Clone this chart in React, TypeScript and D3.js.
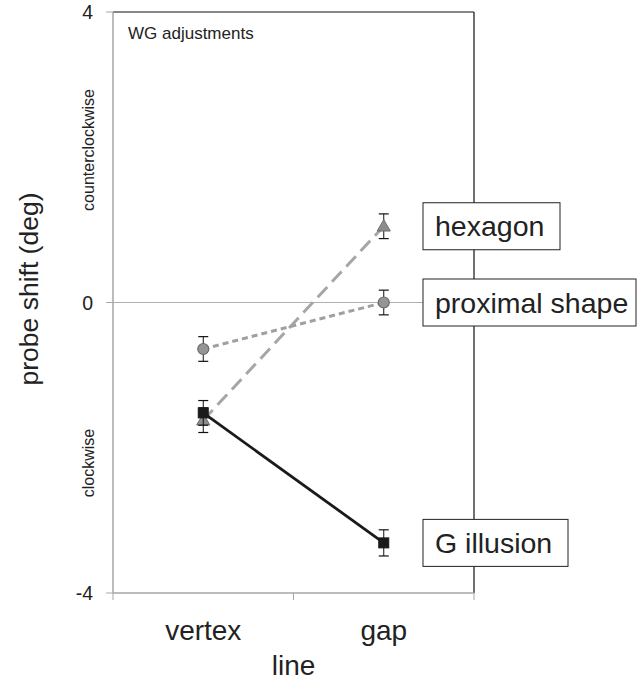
import React from "react";
import * as d3 from "d3";

const categories = ["vertex", "gap"];
const seriesNames = ["hexagon", "proximal shape", "G illusion"];
const hexagonValues = [-1.62, 1.05];
const hexagonErrors = [0.17, 0.17];
const proximalValues = [-0.64, 0.0];
const proximalErrors = [0.17, 0.17];
const gIllusionValues = [-1.52, -3.31];
const gIllusionErrors = [0.17, 0.18];
const yTicks = [4, 0, -4];

const W = 639;
const H = 681;
const left = 113;
const right = 474;
const top = 12;
const bottom = 593;

export default function App() {
  const y = d3.scaleLinear().domain([-4, 4]).range([bottom, top]);
  const xBand = d3.scaleBand().domain(categories).range([left, right]);
  const xc = (c: string) => (xBand(c) as number) + xBand.bandwidth() / 2;

  const line = d3
    .line<number>()
    .x((_, i) => xc(categories[i]))
    .y((v) => y(v));

  const series = [
    {
      name: seriesNames[0],
      values: hexagonValues,
      errors: hexagonErrors,
      color: "#a6a6a6",
      dash: "14,7",
      marker: "triangle",
      fill: "#8c8c8c",
      stroke: "#6e6e6e",
      labelY: 1.05,
      boxW: 137,
    },
    {
      name: seriesNames[1],
      values: proximalValues,
      errors: proximalErrors,
      color: "#a0a0a0",
      dash: "6,4",
      marker: "circle",
      fill: "#959595",
      stroke: "#6a6a6a",
      labelY: 0,
      boxW: 213,
    },
    {
      name: seriesNames[2],
      values: gIllusionValues,
      errors: gIllusionErrors,
      color: "#1a1a1a",
      dash: "",
      marker: "square",
      fill: "#1a1a1a",
      stroke: "#1a1a1a",
      labelY: -3.31,
      boxW: 145,
    },
  ];

  const drawMarker = (s: any, cx: number, cy: number, key: string) => {
    if (s.marker === "square")
      return <rect key={key} x={cx - 5} y={cy - 5} width={10} height={10} fill={s.fill} stroke={s.stroke} strokeWidth={1} />;
    if (s.marker === "circle")
      return <circle key={key} cx={cx} cy={cy} r={5.5} fill={s.fill} stroke={s.stroke} strokeWidth={1.2} />;
    const sym = d3.symbol().type(d3.symbolTriangle).size(75)();
    return <path key={key} d={sym as string} transform={`translate(${cx},${cy + 1})`} fill={s.fill} stroke={s.stroke} strokeWidth={1} />;
  };

  const font = "'Liberation Sans', Arial, Helvetica, sans-serif";

  return (
    <svg width={W} height={H} style={{ position: "absolute", left: 0, top: 0, fontFamily: font }}>
      <rect x={0} y={0} width={W} height={H} fill="#fff" />
      {/* zero line */}
      <line x1={left} x2={right} y1={y(0)} y2={y(0)} stroke="#b0b0b0" strokeWidth={1} />
      {/* frame */}
      <line x1={left} x2={right} y1={top} y2={top} stroke="#111" strokeWidth={1.2} />
      <line x1={right} x2={right} y1={top} y2={bottom} stroke="#111" strokeWidth={1.2} />
      <line x1={left} x2={left} y1={top} y2={bottom} stroke="#a6a6a6" strokeWidth={1.5} />
      <line x1={left} x2={right} y1={bottom} y2={bottom} stroke="#a6a6a6" strokeWidth={1.5} />
      {/* y ticks */}
      {yTicks.map((t) => (
        <g key={t}>
          <line x1={left - 7} x2={left} y1={y(t)} y2={y(t)} stroke="#a6a6a6" strokeWidth={1} />
          <text x={93} y={y(t) + 7} fontSize={19.5} textAnchor="end" fill="#222">
            {t}
          </text>
        </g>
      ))}
      {/* x ticks */}
      {[left, (left + right) / 2, right].map((xv, i) => (
        <line key={i} x1={xv} x2={xv} y1={bottom} y2={bottom + 7} stroke="#a6a6a6" strokeWidth={1} />
      ))}
      {categories.map((c) => (
        <text key={c} x={xc(c)} y={640} fontSize={28} textAnchor="middle" fill="#222">
          {c}
        </text>
      ))}
      <text x={(left + right) / 2} y={675} fontSize={28} textAnchor="middle" fill="#222">
        line
      </text>
      <text transform={`translate(38,${289}) rotate(-90)`} fontSize={26.5} textAnchor="middle" fill="#222">
        probe shift (deg)
      </text>
      <text transform={`translate(94,150) rotate(-90)`} fontSize={16} textAnchor="middle" fill="#222">
        counterclockwise
      </text>
      <text transform={`translate(94,463) rotate(-90)`} fontSize={16} textAnchor="middle" fill="#222">
        clockwise
      </text>
      <text x={128} y={39} fontSize={17} fill="#222">
        WG adjustments
      </text>
      {/* legend boxes */}
      {series.map((s) => (
        <g key={s.name}>
          <rect x={423} y={y(s.labelY) - 23.5} width={s.boxW} height={47} fill="#fff" stroke="#222" strokeWidth={1} />
          <text x={435} y={y(s.labelY) + 10} fontSize={28.5} fill="#222">
            {s.name}
          </text>
        </g>
      ))}
      {/* series */}
      {series.map((s) => (
        <g key={s.name}>
          <path d={line(s.values) as string} fill="none" stroke={s.color} strokeWidth={s.marker === "square" ? 2.8 : 3} strokeDasharray={s.dash} />
        </g>
      ))}
      {series.map((s) => (
        <g key={s.name + "m"}>
          {s.values.map((v, i) => {
            const cx = xc(categories[i]);
            const y1 = y(v + s.errors[i]);
            const y2 = y(v - s.errors[i]);
            return (
              <g key={i}>
                <line x1={cx} x2={cx} y1={y1} y2={y2} stroke="#111" strokeWidth={1} />
                <line x1={cx - 5} x2={cx + 5} y1={y1} y2={y1} stroke="#111" strokeWidth={1.2} />
                <line x1={cx - 5} x2={cx + 5} y1={y2} y2={y2} stroke="#111" strokeWidth={1.2} />
                {drawMarker(s, cx, y(v), `m${i}`)}
              </g>
            );
          })}
        </g>
      ))}
    </svg>
  );
}
